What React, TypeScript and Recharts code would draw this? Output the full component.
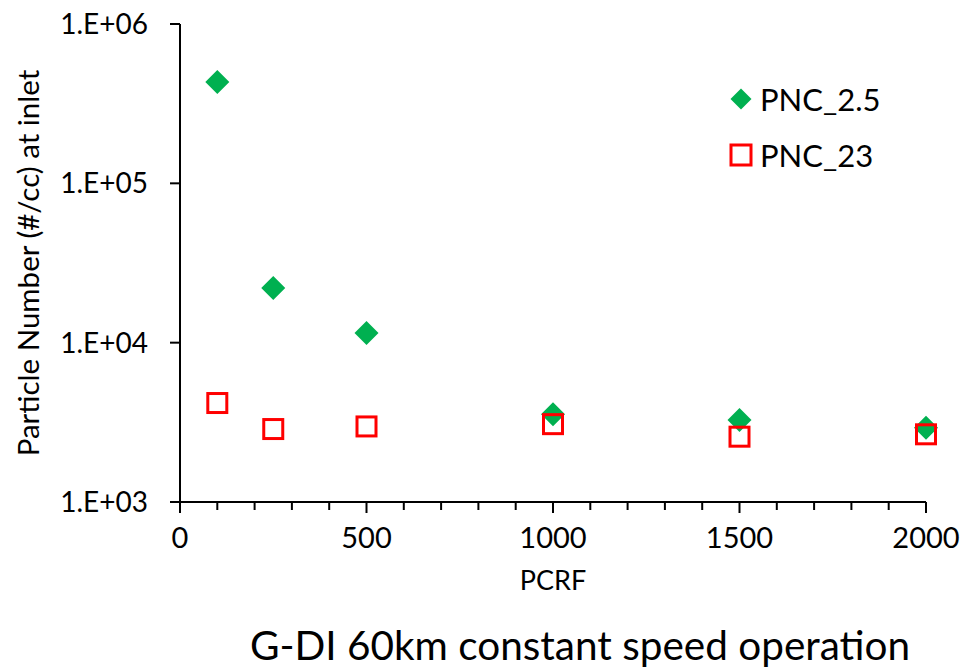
import { ScatterChart, Scatter, XAxis, YAxis } from 'recharts'

const pcrf = [100, 250, 500, 1000, 1500, 2000]
const pnc25 = [432000, 22000, 11500, 3560, 3270, 2920]
const pnc23 = [4180, 2870, 2980, 3080, 2570, 2660]
const xMajorTicks = [0, 500, 1000, 1500, 2000]
const xMinorTicks = [100, 200, 300, 400, 600, 700, 800, 900, 1100, 1200, 1300, 1400, 1600, 1700, 1800, 1900]
const yTicks = [1000, 10000, 100000, 1000000]
const seriesNames = ['PNC_2.5', 'PNC_23']

const GREEN = '#00B050'
const RED = '#FF0000'
const FONT = 'Lato, "Open Sans", sans-serif'

const data25 = pcrf.map((x, i) => ({ x, y: pnc25[i] }))
const data23 = pcrf.map((x, i) => ({ x, y: pnc23[i] }))
const allXTicks = [...xMajorTicks, ...xMinorTicks].sort((a, b) => a - b)

function Diamond({ cx, cy, r = 12 }: { cx?: number; cy?: number; r?: number }) {
  if (cx == null || cy == null) return null
  return (
    <polygon
      points={`${cx},${cy - r} ${cx + r},${cy} ${cx},${cy + r} ${cx - r},${cy}`}
      fill={GREEN}
    />
  )
}

function Square({ cx, cy, s = 19 }: { cx?: number; cy?: number; s?: number }) {
  if (cx == null || cy == null) return null
  return (
    <rect x={cx - s / 2} y={cy - s / 2} width={s} height={s} fill="none" stroke={RED} strokeWidth={3} />
  )
}

function XTick({ x, y, payload }: { x?: number; y?: number; payload?: { value: number } }) {
  if (x == null || y == null || !payload) return null
  const major = xMajorTicks.includes(payload.value)
  return (
    <g>
      <line x1={x} x2={x} y1={y} y2={y + (major ? 11 : 8)} stroke="#000" strokeWidth={2} />
      {major && (
        <text x={x} y={y + 46} textAnchor="middle" fontSize={29} fontFamily={FONT} fill="#000">
          {payload.value}
        </text>
      )}
    </g>
  )
}

function XLabel({ viewBox }: { viewBox?: { x: number; y: number; width: number } }) {
  if (!viewBox) return null
  return (
    <text x={viewBox.x + viewBox.width / 2} y={viewBox.y + 88} textAnchor="middle" fontSize={27} fontFamily={FONT} fill="#000">
      PCRF
    </text>
  )
}

function YLabel({ viewBox }: { viewBox?: { x: number; y: number; height: number } }) {
  if (!viewBox) return null
  const cx = 27
  const cy = viewBox.y + viewBox.height / 2
  return (
    <text
      x={cx}
      y={cy}
      transform={`rotate(-90, ${cx}, ${cy})`}
      textAnchor="middle"
      dominantBaseline="central"
      fontSize={29.5}
      fontFamily={FONT}
      fill="#000"
    >
      Particle Number (#/cc) at inlet
    </text>
  )
}

const fmtExp = (v: number) => `1.E+${String(Math.round(Math.log10(v))).padStart(2, '0')}`

export default function App() {
  return (
    <div style={{ position: 'fixed', left: 0, top: 0, width: 963, height: 669, fontFamily: FONT, background: '#fff', overflow: 'hidden' }}>
      <ScatterChart width={1000} height={669} margin={{ top: 24, right: 74, left: 0, bottom: 0 }}>
        <XAxis
          type="number"
          dataKey="x"
          domain={[0, 2000]}
          ticks={allXTicks}
          interval={0}
          height={167}
          tickSize={0}
          tickMargin={0}
          tickLine={false}
          axisLine={{ stroke: '#000', strokeWidth: 2 }}
          tick={<XTick />}
          label={<XLabel />}
        />
        <YAxis
          type="number"
          dataKey="y"
          scale="log"
          domain={[1000, 1000000]}
          allowDataOverflow
          ticks={yTicks}
          interval={0}
          width={180}
          tickSize={10}
          tickMargin={22}
          tickFormatter={fmtExp}
          tick={{ fontSize: 28, fontFamily: FONT, fill: '#000' }}
          tickLine={{ stroke: '#000', strokeWidth: 2 }}
          axisLine={{ stroke: '#000', strokeWidth: 2 }}
          label={<YLabel />}
        />
        <Scatter name={seriesNames[0]} data={data25} shape={<Diamond />} isAnimationActive={false} />
        <Scatter name={seriesNames[1]} data={data23} shape={<Square />} isAnimationActive={false} />
      </ScatterChart>
      <svg style={{ position: 'absolute', left: 720, top: 75 }} width={230} height={110}>
        <Diamond cx={21} cy={24} r={10.5} />
        <text x={40} y={24} dominantBaseline="central" fontSize={31} fontFamily={FONT} fill="#000">
          {seriesNames[0]}
        </text>
        <Square cx={21} cy={80} s={20} />
        <text x={40} y={80} dominantBaseline="central" fontSize={31} fontFamily={FONT} fill="#000">
          {seriesNames[1]}
        </text>
      </svg>
      <div
        style={{
          position: 'absolute',
          left: 0,
          width: 1160,
          top: 620,
          textAlign: 'center',
          fontSize: 40.5,
          lineHeight: '50px',
          color: '#000',
          whiteSpace: 'nowrap',
        }}
      >
        G-DI 60km constant speed operation
      </div>
    </div>
  )
}
